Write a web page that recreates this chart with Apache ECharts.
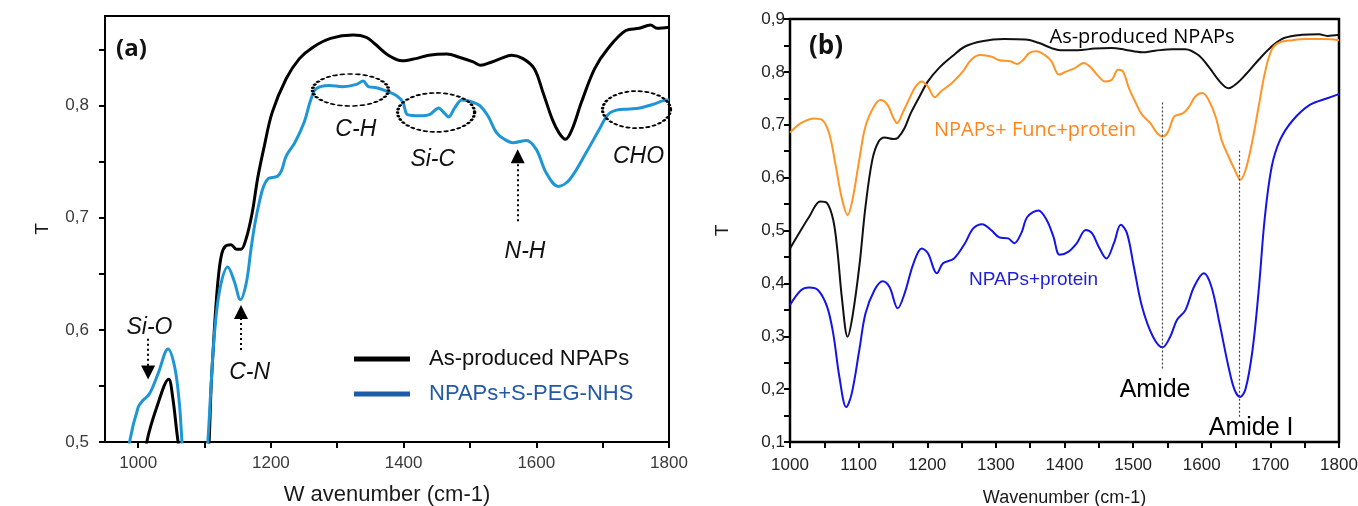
<!DOCTYPE html>
<html>
<head>
<meta charset="utf-8">
<script src="https://cdn.jsdelivr.net/npm/echarts@6/dist/echarts.min.js"></script>
<style>
html, body { margin: 0; padding: 0; background: #fff; }
#chart { width: 1358px; height: 506px; }
</style>
</head>
<body>
<div id="chart"></div>
<script>
// ---- panel (a) : [wavenumber, T] ----
var asProducedA = [[990,0.42],[1013,0.5],[1028,0.531],[1046,0.556],[1052,0.54],[1058,0.51],[1062,0.49],[1075,0.40],[1095,0.40],[1106,0.49],[1110,0.55],[1113,0.582],[1117,0.62],[1121,0.648],[1126,0.668],[1132,0.675],[1140,0.676],[1148,0.672],[1155,0.672],[1163,0.682],[1172,0.705],[1180,0.735],[1189,0.761],[1202,0.794],[1223,0.824],[1243,0.842],[1263,0.852],[1290,0.860],[1324,0.863],[1344,0.861],[1357,0.855],[1377,0.845],[1398,0.840],[1418,0.842],[1438,0.845],[1465,0.846],[1485,0.843],[1505,0.839],[1516,0.836],[1533,0.839],[1546,0.842],[1563,0.845],[1580,0.842],[1597,0.833],[1610,0.812],[1624,0.788],[1634,0.776],[1644,0.770],[1654,0.779],[1668,0.803],[1688,0.833],[1708,0.851],[1735,0.867],[1755,0.869],[1772,0.872],[1782,0.869],[1800,0.870]]
var pegA = [[975,0.45],[987,0.5],[1000,0.531],[1007,0.537],[1017,0.543],[1030,0.561],[1045,0.583],[1055,0.567],[1062,0.535],[1066,0.5],[1075,0.42],[1095,0.42],[1105,0.5],[1110,0.552],[1115,0.597],[1123,0.636],[1135,0.656],[1145,0.643],[1154,0.627],[1163,0.642],[1170,0.672],[1176,0.695],[1183,0.715],[1189,0.728],[1196,0.735],[1202,0.736],[1210,0.737],[1216,0.742],[1223,0.755],[1236,0.767],[1250,0.785],[1260,0.805],[1268,0.815],[1288,0.818],[1308,0.817],[1329,0.819],[1339,0.822],[1347,0.817],[1359,0.816],[1374,0.813],[1389,0.809],[1399,0.803],[1406,0.792],[1424,0.791],[1439,0.792],[1453,0.798],[1459,0.795],[1468,0.790],[1477,0.798],[1488,0.805],[1505,0.803],[1515,0.800],[1527,0.791],[1540,0.776],[1552,0.770],[1565,0.767],[1585,0.769],[1600,0.761],[1615,0.740],[1633,0.728],[1650,0.734],[1675,0.758],[1695,0.779],[1708,0.792],[1721,0.796],[1740,0.797],[1756,0.798],[1775,0.801],[1798,0.805],[1800,0.805]]

var xTicksA = [1000,1100,1200,1300,1400,1500,1600,1700,1800]
var xLabelsA = [1000,1200,1400,1600,1800]
var yTicksA = [0.5,0.55,0.6,0.65,0.7,0.75,0.8,0.85]
var yLabelsA = [0.5,0.6,0.7,0.8]

var bondLabelsA = [
  { name: 'C-H', value: [1328, 0.779] },
  { name: 'Si-C', value: [1444, 0.752] },
  { name: 'N-H', value: [1583, 0.670] },
  { name: 'CHO', value: [1754, 0.755] },
  { name: 'Si-O', value: [1017, 0.602] },
  { name: 'C-N', value: [1168, 0.562] }
]
var ellipseCentersA = [[1320, 0.814], [1449, 0.794], [1751, 0.7965]]
// arrows: [x, tail T, head T]
var arrowsA = [[1015, 0.592, 0.562], [1155, 0.582, 0.616], [1572, 0.697, 0.755]]

// ---- panel (b) ----
var asProducedB = [[1000,0.466],[1016,0.501],[1028,0.526],[1044,0.555],[1054,0.552],[1063,0.520],[1069,0.463],[1076,0.368],[1084,0.299],[1091,0.337],[1101,0.432],[1110,0.545],[1120,0.634],[1129,0.668],[1138,0.676],[1151,0.673],[1157,0.675],[1167,0.694],[1176,0.722],[1189,0.754],[1201,0.782],[1217,0.807],[1236,0.829],[1255,0.848],[1280,0.858],[1312,0.862],[1343,0.861],[1362,0.855],[1381,0.845],[1394,0.841],[1419,0.841],[1444,0.844],[1469,0.845],[1488,0.842],[1513,0.837],[1532,0.840],[1557,0.843],[1576,0.843],[1595,0.832],[1610,0.810],[1626,0.782],[1639,0.769],[1651,0.778],[1664,0.795],[1683,0.823],[1702,0.848],[1720,0.864],[1746,0.870],[1771,0.871],[1783,0.868],[1800,0.870]]
var funcProteinB = [[1000,0.685],[1016,0.703],[1035,0.712],[1047,0.709],[1057,0.684],[1066,0.627],[1076,0.558],[1084,0.529],[1091,0.558],[1101,0.634],[1110,0.697],[1123,0.736],[1132,0.747],[1142,0.738],[1151,0.712],[1156,0.703],[1164,0.722],[1173,0.747],[1183,0.772],[1192,0.782],[1201,0.772],[1211,0.752],[1220,0.763],[1236,0.779],[1252,0.801],[1264,0.823],[1277,0.832],[1293,0.829],[1305,0.822],[1321,0.820],[1331,0.815],[1340,0.823],[1349,0.836],[1359,0.839],[1371,0.832],[1381,0.820],[1392,0.795],[1403,0.801],[1415,0.807],[1428,0.817],[1437,0.810],[1450,0.791],[1459,0.782],[1469,0.785],[1478,0.804],[1485,0.801],[1494,0.769],[1504,0.741],[1513,0.719],[1525,0.703],[1535,0.684],[1543,0.678],[1551,0.687],[1560,0.716],[1573,0.722],[1582,0.735],[1591,0.754],[1601,0.760],[1610,0.747],[1620,0.716],[1629,0.671],[1639,0.640],[1648,0.615],[1656,0.596],[1664,0.615],[1674,0.671],[1683,0.735],[1692,0.798],[1702,0.842],[1714,0.856],[1733,0.860],[1752,0.862],[1777,0.862],[1800,0.860]]
var proteinB = [[1000,0.359],[1016,0.387],[1028,0.392],[1041,0.387],[1054,0.356],[1063,0.305],[1072,0.223],[1082,0.166],[1090,0.192],[1101,0.274],[1110,0.343],[1123,0.387],[1135,0.404],[1145,0.393],[1157,0.353],[1167,0.381],[1180,0.438],[1192,0.466],[1201,0.457],[1214,0.419],[1223,0.438],[1239,0.447],[1255,0.476],[1267,0.504],[1280,0.512],[1293,0.501],[1305,0.487],[1318,0.485],[1327,0.476],[1337,0.495],[1346,0.526],[1362,0.538],[1374,0.520],[1384,0.488],[1393,0.454],[1406,0.460],[1418,0.476],[1431,0.501],[1440,0.495],[1450,0.469],[1461,0.447],[1472,0.476],[1482,0.511],[1491,0.495],[1501,0.432],[1513,0.356],[1529,0.299],[1543,0.279],[1554,0.299],[1564,0.331],[1576,0.349],[1589,0.394],[1603,0.419],[1614,0.394],[1626,0.324],[1639,0.242],[1648,0.198],[1656,0.185],[1664,0.201],[1674,0.274],[1683,0.387],[1692,0.526],[1702,0.621],[1714,0.671],[1733,0.709],[1758,0.738],[1783,0.750],[1800,0.758]]

var xTicksB = [1000,1050,1100,1150,1200,1250,1300,1350,1400,1450,1500,1550,1600,1650,1700,1750,1800]
var xLabelsB = [1000,1100,1200,1300,1400,1500,1600,1700,1800]
var yTicksB = [0.1,0.15,0.2,0.25,0.3,0.35,0.4,0.45,0.5,0.55,0.6,0.65,0.7,0.75,0.8,0.85,0.9]
var yLabelsB = [0.1,0.2,0.3,0.4,0.5,0.6,0.7,0.8,0.9]

// dotted guide lines: [x, top T, bottom T]
var amideLinesB = [[1543, 0.742, 0.236], [1655, 0.651, 0.145]]

function comma(v) { return (Math.round(v * 10) / 10).toFixed(1).replace('.', ',') }
function plain(v) { return String(Math.round(v)) }

var chart = echarts.init(document.getElementById('chart'))

function xAxisCfg(grid, min, max, ticks, labels, name, nameGap, nameSize, tickColor, labelSize, margin) {
  return {
    type: 'value', gridIndex: grid, min: min, max: max,
    name: name, nameLocation: 'middle', nameGap: nameGap,
    nameTextStyle: { fontSize: nameSize, color: '#1a1a1a', fontFamily: 'Liberation Sans' },
    axisLine: { show: true, lineStyle: { color: '#000', width: 2 } },
    axisTick: { show: true, customValues: ticks, length: 6, lineStyle: { color: '#000', width: 2 } },
    axisLabel: { customValues: labels, margin: margin, fontSize: labelSize, color: tickColor, fontFamily: 'Liberation Sans', formatter: plain },
    splitLine: { show: false }
  }
}
function yAxisCfg(grid, min, max, ticks, labels, nameGap, tickColor, labelSize, margin) {
  return {
    type: 'value', gridIndex: grid, min: min, max: max,
    name: 'T', nameLocation: 'middle', nameGap: nameGap, nameRotate: 90,
    nameTextStyle: { fontSize: 19, color: '#1a1a1a', fontFamily: 'Liberation Sans' },
    axisLine: { show: true, lineStyle: { color: '#000', width: 2 } },
    axisTick: { show: true, customValues: ticks, length: 6, lineStyle: { color: '#000', width: 2 } },
    axisLabel: { customValues: labels, margin: margin, fontSize: labelSize, color: tickColor, fontFamily: 'Liberation Sans', formatter: comma },
    splitLine: { show: false }
  }
}

var option = {
  animation: false,
  backgroundColor: '#fff',
  grid: [
    { left: 105, top: 16, width: 564, height: 426, show: true, borderColor: '#000', borderWidth: 2, outerBoundsMode: 'none', containLabel: false },
    { left: 790, top: 19, width: 549, height: 423, show: true, borderColor: '#000', borderWidth: 2.5, outerBoundsMode: 'none', containLabel: false }
  ],
  xAxis: [
    xAxisCfg(0, 950, 1800, xTicksA, xLabelsA, 'W avenumber (cm-1)', 42, 22, '#3a3a3a', 17, 13),
    xAxisCfg(1, 1000, 1800, xTicksB, xLabelsB, 'Wavenumber (cm-1)', 47, 18, '#222', 17, 15)
  ],
  yAxis: [
    yAxisCfg(0, 0.5, 0.88, yTicksA, yLabelsA, 53, '#3a3a3a', 17, 16),
    yAxisCfg(1, 0.1, 0.9, yTicksB, yLabelsB, 58, '#222', 17, 5)
  ],
  legend: {
    orient: 'vertical', left: 349, top: 343, itemWidth: 56, itemHeight: 5, itemGap: 13,
    icon: 'rect', selectedMode: false,
    textStyle: { fontSize: 22, fontFamily: 'Liberation Sans', padding: [0, 0, 0, 14] },
    data: [
      { name: 'As-produced NPAPs', itemStyle: { color: '#000' }, textStyle: { color: '#111' } },
      { name: 'NPAPs+S-PEG-NHS', itemStyle: { color: '#1f5ca8' }, textStyle: { color: '#2259a6' } }
    ]
  },
  graphic: [
    { type: 'text', left: 116, top: 37, style: { text: '(a)', font: 'bold 24px "Open Sans"', fill: '#111' } },
    { type: 'text', left: 809, top: 34, style: { text: '(b)', font: 'bold 26px "Open Sans"', fill: '#111' } }
  ],
  series: [
    {
      name: 'As-produced NPAPs', type: 'line', xAxisIndex: 0, yAxisIndex: 0,
      data: asProducedA, smooth: 0.35, showSymbol: false, clip: true,
      lineStyle: { color: '#000', width: 3 }, itemStyle: { color: '#000' }, z: 3
    },
    {
      name: 'NPAPs+S-PEG-NHS', type: 'line', xAxisIndex: 0, yAxisIndex: 0,
      data: pegA, smooth: 0.35, showSymbol: false, clip: true,
      lineStyle: { color: '#1e96d6', width: 3 }, itemStyle: { color: '#1e96d6' }, z: 3
    },
    {
      name: 'ellipsesA', type: 'scatter', xAxisIndex: 0, yAxisIndex: 0, silent: true,
      data: ellipseCentersA.map(function (c, i) {
        return { value: c, symbolSize: [[76, 32], [77, 39], [68, 37]][i] }
      }),
      symbol: 'circle',
      itemStyle: { color: 'rgba(0,0,0,0)', opacity: 1, borderColor: '#000', borderWidth: 2.4, borderType: [1.5, 3.5], borderCap: 'round' },
      z: 4
    },
    {
      name: 'labelsA', type: 'scatter', xAxisIndex: 0, yAxisIndex: 0, silent: true,
      data: bondLabelsA, symbolSize: 1, itemStyle: { color: 'rgba(0,0,0,0)', opacity: 1 },
      label: { show: true, position: 'inside', formatter: '{b}', fontSize: 23, fontStyle: 'italic', color: '#111', opacity: 1, textBorderWidth: 0, fontFamily: 'Liberation Sans' },
      markLine: {
        silent: true, symbol: ['none', 'triangle'], symbolSize: 14,
        label: { show: false },
        lineStyle: { color: '#000', width: 2, type: [2, 3], opacity: 1 },
        itemStyle: { color: '#000' },
        data: arrowsA.map(function (a) { return [{ coord: [a[0], a[1]] }, { coord: [a[0], a[2]] }] })
      },
      z: 5
    },
    {
      name: 'As-produced NPAPs (b)', type: 'line', xAxisIndex: 1, yAxisIndex: 1,
      data: asProducedB, smooth: 0.35, showSymbol: false,
      lineStyle: { color: '#111', width: 2 }, z: 3
    },
    {
      name: 'NPAPs+ Func+protein', type: 'line', xAxisIndex: 1, yAxisIndex: 1,
      data: funcProteinB, smooth: 0.35, showSymbol: false,
      lineStyle: { color: '#ff9526', width: 2 }, z: 3
    },
    {
      name: 'NPAPs+protein', type: 'line', xAxisIndex: 1, yAxisIndex: 1,
      data: proteinB, smooth: 0.35, showSymbol: false,
      lineStyle: { color: '#1414e6', width: 2 }, z: 3,
      markLine: {
        silent: true, symbol: ['none', 'none'], label: { show: false },
        lineStyle: { color: '#444', width: 1.2, type: [2, 2] },
        data: amideLinesB.map(function (a) { return [{ coord: [a[0], a[1]] }, { coord: [a[0], a[2]] }] })
      }
    },
    {
      name: 'labelsB', type: 'scatter', xAxisIndex: 1, yAxisIndex: 1, silent: true,
      symbolSize: 1, itemStyle: { color: 'rgba(0,0,0,0)', opacity: 1 },
      label: { show: true, position: 'inside', formatter: '{b}', opacity: 1, textBorderWidth: 0 },
      data: [
        { name: 'As-produced NPAPs', value: [1513, 0.866], label: { fontSize: 20, color: '#000', fontFamily: 'Open Sans' } },
        { name: 'NPAPs+ Func+protein', value: [1357, 0.690], label: { fontSize: 20, color: '#ff8519', fontFamily: 'Open Sans' } },
        { name: 'NPAPs+protein', value: [1355, 0.406], label: { fontSize: 19, color: '#1f1fd8', fontFamily: 'Liberation Sans' } },
        { name: 'Amide', value: [1532, 0.198], label: { fontSize: 25, color: '#000', fontFamily: 'Liberation Sans' } },
        { name: 'Amide I', value: [1672, 0.126], label: { fontSize: 25, color: '#000', fontFamily: 'Liberation Sans' } }
      ],
      z: 5
    }
  ]
}

chart.setOption(option)
</script>
</body>
</html>
